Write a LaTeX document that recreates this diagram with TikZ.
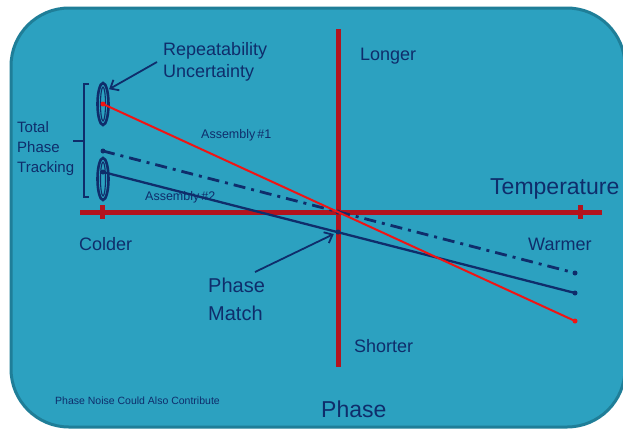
\documentclass[tikz,border=0pt]{standalone}
\usepackage{fontspec}
\setmainfont{Liberation Sans}
\usetikzlibrary{arrows.meta,shapes.geometric}
\definecolor{bgfill}{HTML}{2CA1C0}
\definecolor{bgedge}{HTML}{1F7E98}
\definecolor{navy}{HTML}{0F2D6B}
\definecolor{axisred}{HTML}{B3141E}
\definecolor{linered}{HTML}{F01414}
\tikzset{
  lbl/.style={text=navy, inner sep=0pt, anchor=base west, font=\fontsize{18}{22}\selectfont},
  mlbl/.style={text=navy, inner sep=0pt, anchor=north west, align=left},
  axisline/.style={draw=axisred, line width=5pt},
  tickmark/.style={draw=axisred, line width=5pt},
  dot/.style={circle, inner sep=0pt, minimum size=5pt, fill=navy},
  reddot/.style={circle, inner sep=0pt, minimum size=5pt, fill=linered},
  redline/.style={draw=linered, line width=2pt},
  navyline/.style={draw=navy, line width=2.3pt},
  dashdotline/.style={draw=navy, line width=2.8pt, dash pattern=on 12pt off 6pt on 3pt off 6pt},
  outerell/.style={ellipse, draw=navy, line width=2.6pt, minimum width=11pt, minimum height=42pt, inner sep=0pt},
  innerell/.style={ellipse, draw=navy, line width=1.1pt, minimum width=5pt, minimum height=34pt, inner sep=0pt},
  pointer/.style={draw=navy, line width=1.8pt, -{Straight Barb[length=7pt,width=12pt,line width=1.8pt]}},
  bracketline/.style={draw=navy, line width=1.8pt}
}
\begin{document}
\begin{tikzpicture}[x=1pt,y=-1pt]
\useasboundingbox (0,0) rectangle (623,431);
\fill[white] (0,0) rectangle (623,431);
% panel
\draw[fill=bgfill, draw=bgedge, line width=3pt, rounded corners=58pt] (11,8) rectangle (625,427);

% axes
\coordinate (hL) at (80,212);
\coordinate (hR) at (602,212);
\coordinate (vT) at (338,29);
\coordinate (vB) at (338,367);
\draw[axisline] (hL) -- (hR);
\draw[axisline] (vT) -- (vB);
\coordinate (t1a) at (102,205); \coordinate (t1b) at (102,219);
\coordinate (t2a) at (580,205); \coordinate (t2b) at (580,219);
\draw[tickmark] (t1a) -- (t1b);
\draw[tickmark] (t2a) -- (t2b);

% ellipses
\node[outerell] (e1) at (103,104) {};
\node[innerell] (e1i) at (103,104) {};
\node[outerell] (e2) at (103,179) {};
\node[innerell] (e2i) at (103,179) {};

% end points
\node[reddot] (r1) at (103,104) {};
\node[reddot] (r2) at (575,321) {};
\node[dot] (d1) at (103,151) {};
\node[dot] (d2) at (575,273) {};
\node[dot] (s1) at (103,172) {};
\node[dot] (s2) at (575,293) {};
\node[dot] (o) at (338,212) {};
\node[dot] (pm) at (338,232) {};

% lines
\draw[dashdotline] (d1.center) -- (d2.center);
\draw[navyline] (s1.center) -- (s2.center);
\draw[redline] (r1.center) -- (r2.center);

% bracket
\coordinate (bT) at (89,84);
\coordinate (bB) at (89,197);
\coordinate (bM) at (73,141);
\draw[bracketline] (bT) -- (84,84) -- (84,197) -- (bB);
\draw[bracketline] (bM) -- (84,141);

% labels
\node[mlbl, font=\fontsize{18}{22}\selectfont] (rep) at (163,42) {Repeatability\\Uncertainty};
\node[mlbl, font=\fontsize{15}{20}\selectfont] (tpt) at (17,121) {Total\\Phase\\Tracking};
\node[lbl, font=\fontsize{12.5}{14}\selectfont] (a1) at (201,138) {Assembly\,\#1};
\node[lbl, font=\fontsize{12.5}{14}\selectfont] (a2) at (145,200) {Assembly\,\#2};
\node[lbl, font=\fontsize{23}{26}\selectfont] (temp) at (490,194) {Temperature};
\node[lbl] (longer) at (360,60) {Longer};
\node[lbl] (colder) at (79,250) {Colder};
\node[lbl] (warmer) at (528,250) {Warmer};
\node[lbl] (shorter) at (354,352) {Shorter};
\node[mlbl, font=\fontsize{20}{28}\selectfont] (pmt) at (208,278) {Phase\\Match};
\node[lbl, font=\fontsize{23}{26}\selectfont] (phase) at (321,417) {Phase};
\node[lbl, font=\fontsize{10.5}{12}\selectfont] (noise) at (55,404) {Phase Noise Could Also Contribute};

% pointers
\coordinate (repA) at (157,62);
\draw[pointer, shorten >=1pt] (repA) -- (e1.70);
\coordinate (pmA) at (255,272);
\draw[pointer, shorten >=2pt] (pmA) -- (pm);
\end{tikzpicture}
\end{document}
